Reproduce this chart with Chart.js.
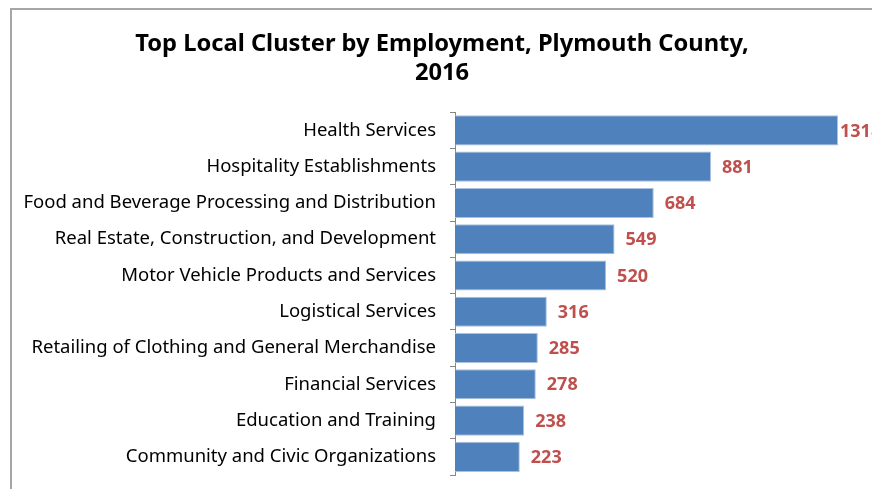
<!DOCTYPE html>
<html>
<head>
<meta charset="utf-8">
<script src="https://cdn.jsdelivr.net/npm/chart.js@4.4.1/dist/chart.umd.min.js"></script>
<style>
  html, body { margin: 0; padding: 0; background: #fff; overflow: hidden; }
  #frame {
    position: absolute; left: 10px; top: 8px; width: 900px; height: 520px;
    border-left: 2px solid #a6a6a6; border-top: 2px solid #a6a6a6;
  }
  #c { position: absolute; left: 12px; top: 10px; }
</style>
</head>
<body>
<div id="frame"></div>
<canvas id="c" width="860" height="479"></canvas>
<script>
// Employment by local cluster, Plymouth County, 2016
const titleLines = ['Top Local Cluster by Employment, Plymouth County,', '2016'];
const clusters = [
  'Health Services',
  'Hospitality Establishments',
  'Food and Beverage Processing and Distribution',
  'Real Estate, Construction, and Development',
  'Motor Vehicle Products and Services',
  'Logistical Services',
  'Retailing of Clothing and General Merchandise',
  'Financial Services',
  'Education and Training',
  'Community and Civic Organizations'
];
const employment = [1318, 881, 684, 549, 520, 316, 285, 278, 238, 223];

const FONT = '"Noto Sans", "Open Sans", sans-serif';

// Value labels drawn just past the end of each bar
const valueLabels = {
  id: 'valueLabels',
  afterDatasetsDraw(chart) {
    const { ctx } = chart;
    const meta = chart.getDatasetMeta(0);
    ctx.save();
    ctx.font = 'bold 18px ' + FONT;
    ctx.fillStyle = '#C0504D';
    ctx.textBaseline = 'middle';
    ctx.textAlign = 'left';
    meta.data.forEach((bar, i) => {
      const text = String(employment[i]);
      const w = ctx.measureText(text).width;
      let x = bar.x + 11;
      if (x + w > chart.width) x = bar.x + 2;
      ctx.fillText(text, x, bar.y + 1);
    });
    ctx.restore();
  }
};

new Chart(document.getElementById('c'), {
  type: 'bar',
  data: {
    labels: clusters,
    datasets: [{
      data: employment,
      backgroundColor: '#4F81BD',
      borderColor: '#a9c0de',
      borderWidth: 1,
      categoryPercentage: 1.0,
      barPercentage: 0.83
    }]
  },
  options: {
    indexAxis: 'y',
    responsive: false,
    animation: false,
    layout: { padding: { left: 0, right: 0, top: 0, bottom: 14 } },
    plugins: {
      legend: { display: false },
      tooltip: { enabled: false },
      title: {
        display: true,
        text: titleLines,
        color: '#000',
        font: { family: FONT, size: 23.7, weight: 'bold', lineHeight: 1.25 },
        padding: { top: 19, bottom: 24 }
      }
    },
    scales: {
      x: {
        display: false,
        min: 0,
        max: 1435
      },
      y: {
        afterFit(scale) {
          scale.width = 443;
          scale.paddingTop = 0;
          scale.paddingBottom = 0;
        },
        border: { display: true, color: '#868686', width: 1 },
        grid: {
          drawOnChartArea: false,
          drawTicks: true,
          tickLength: 5,
          color: '#868686',
          offset: true
        },
        ticks: {
          color: '#000',
          padding: 14,
          font: { family: FONT, size: 18.5 }
        }
      }
    }
  },
  plugins: [valueLabels]
});
</script>
</body>
</html>
